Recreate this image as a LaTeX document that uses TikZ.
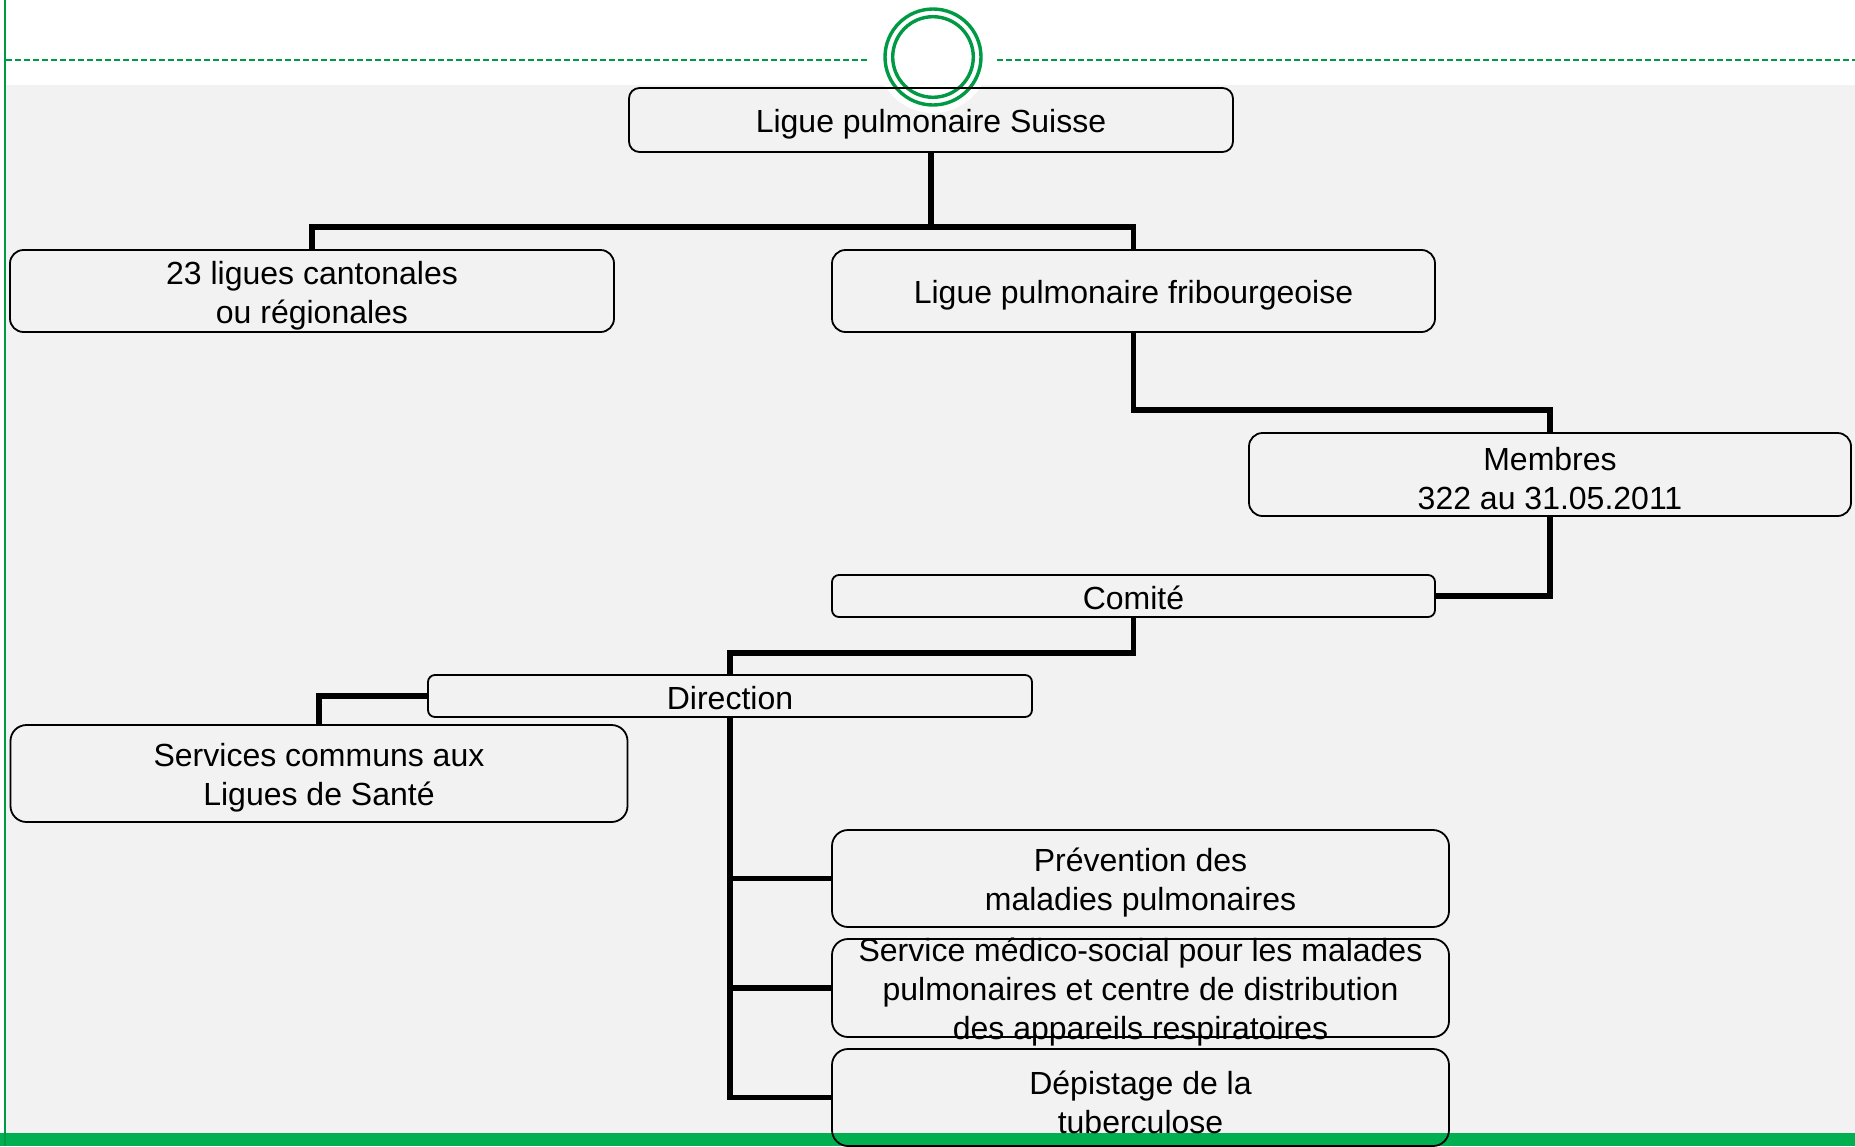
\documentclass[tikz,border=0pt]{standalone}
\usepackage{fontspec}
\setmainfont{Liberation Sans}
\definecolor{bggray}{HTML}{F2F2F2}
\definecolor{lgreen}{HTML}{009A44}
\definecolor{bargreen}{HTML}{00B050}
\tikzset{
  orgbox/.style={draw=black, line width=1.8pt, inner sep=0pt},
  orgtxt/.style={align=center, inner sep=0pt, yshift=-4.5pt, font=\fontsize{32}{39}\selectfont, text=black},
  conn/.style={draw=black, line width=5.2pt, line join=miter},
}
\begin{document}
\begin{tikzpicture}[x=1pt, y=-1pt]
\useasboundingbox (0,0) rectangle (1855,1146);
% background
\fill[bggray] (6,85) rectangle (1855,1133);
\fill[white] (933,57) circle (56);
\fill[bargreen] (0,1133) rectangle (1855,1146);
\draw[lgreen, line width=2.2pt] (5,0) -- (5,1146);
\draw[lgreen, line width=2pt, dash pattern=on 6pt off 3pt] (6,60) -- (867,60);
\draw[lgreen, line width=2pt, dash pattern=on 6pt off 3pt] (997,60) -- (1855,60);
% logo rings
\draw[lgreen, line width=3.4pt] (933,57) circle (48);
\draw[lgreen, line width=3.4pt] (933,57) circle (40.3);

% boxes
\node[orgbox, minimum width=604pt, minimum height=64pt, rounded corners=10.5pt] (A) at (931,120) {};
\node[orgbox, minimum width=604pt, minimum height=82pt, rounded corners=13.5pt] (B) at (312,291) {};
\node[orgbox, minimum width=603pt, minimum height=82pt, rounded corners=13.5pt] (C) at (1133.5,291) {};
\node[orgbox, minimum width=602pt, minimum height=83pt, rounded corners=13.5pt] (D) at (1550,474.5) {};
\node[orgbox, minimum width=603pt, minimum height=42pt, rounded corners=7pt] (E) at (1133.5,596) {};
\node[orgbox, minimum width=604pt, minimum height=42pt, rounded corners=7pt] (F) at (730,696) {};
\node[orgbox, minimum width=617pt, minimum height=97pt, rounded corners=16pt] (G) at (319,773.5) {};
\node[orgbox, minimum width=617pt, minimum height=97pt, rounded corners=16pt] (H) at (1140.5,878.5) {};
\node[orgbox, minimum width=617pt, minimum height=98pt, rounded corners=16pt] (I) at (1140.5,988) {};
\node[orgbox, minimum width=617pt, minimum height=97pt, rounded corners=16pt] (J) at (1140.5,1097.5) {};

% connectors
\coordinate (jA) at (931,227);
\draw[conn] (A.south) -- (jA);
\draw[conn] (B.north) |- (jA) -| (C.north);
\draw[conn] (C.south) -- ++(0,77) -| (D.north);
\draw[conn] (D.south) |- (E.east);
\draw[conn] (E.south) -- ++(0,35) -| (F.north);
\draw[conn] (F.west) -| (G.north);
\draw[conn] (F.south) |- (J.west);
\draw[conn] (F.south |- H.west) -- (H.west);
\draw[conn] (F.south |- I.west) -- (I.west);

% texts
\node[orgtxt] (At) at (A) {Ligue pulmonaire Suisse};
\node[orgtxt] (Bt) at (B) {23 ligues cantonales\\ou régionales};
\node[orgtxt] (Ct) at (C) {Ligue pulmonaire fribourgeoise};
\node[orgtxt] (Dt) at (D) {Membres\\322 au 31.05.2011};
\node[orgtxt, yshift=3pt] (Et) at (E) {Comité};
\node[orgtxt, yshift=2.5pt] (Ft) at (F) {Direction};
\node[orgtxt] (Gt) at (G) {Services communs aux\\Ligues de Santé};
\node[orgtxt] (Ht) at (H) {Prévention des\\maladies pulmonaires};
\node[orgtxt] (It) at (I) {Service médico-social pour les malades\\pulmonaires et centre de distribution\\des appareils respiratoires};
\node[orgtxt] (Jt) at (J) {Dépistage de la\\tuberculose};
\end{tikzpicture}
\end{document}
